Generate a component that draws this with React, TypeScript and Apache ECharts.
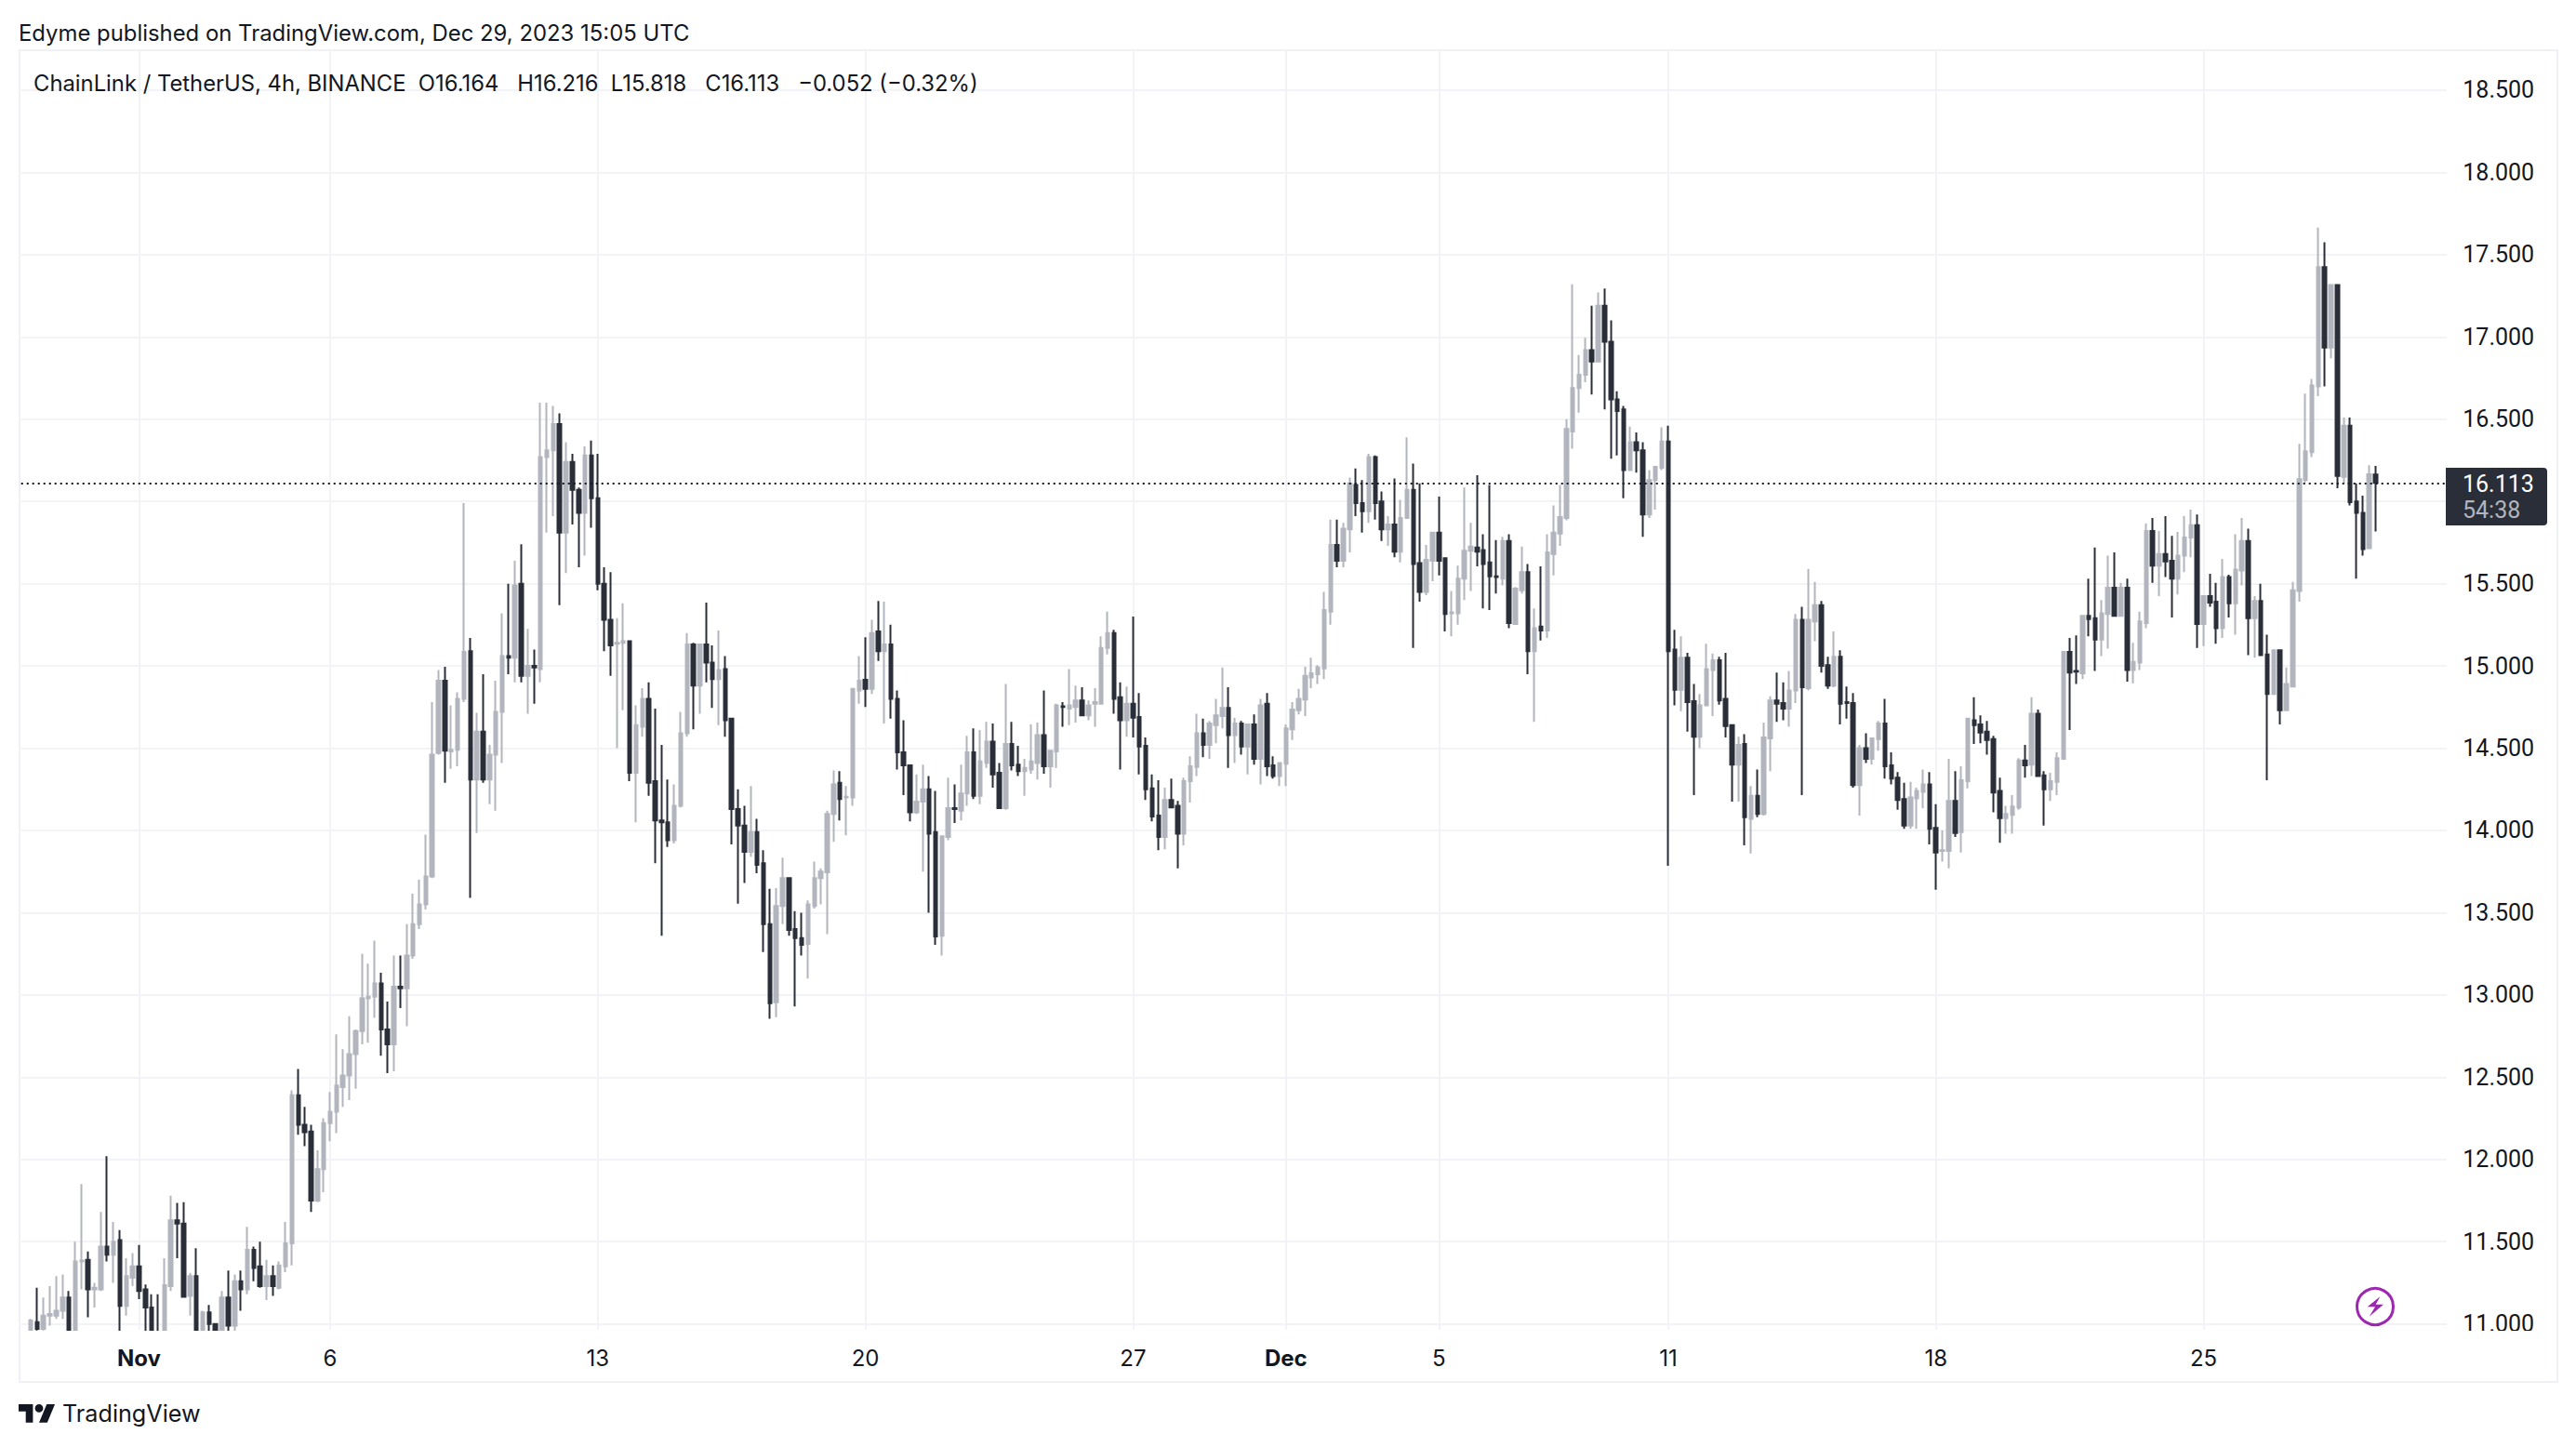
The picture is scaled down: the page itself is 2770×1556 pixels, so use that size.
import React, { useEffect, useRef } from "react";
import * as echarts from "echarts";

const opens = [
10.95,11.01,10.97,11.05,11.05,11.08,11.16,10.95,11.38,11.39,
11.21,11.21,11.47,11.42,11.51,11.11,11.28,11.35,11.21,11.10,
10.95,10.93,11.23,11.63,11.61,11.17,11.29,10.96,11.07,11.00,
10.95,11.16,10.99,11.26,11.21,11.45,11.35,11.23,11.29,11.22,
11.35,11.49,12.39,12.21,12.17,11.75,11.94,12.22,12.29,12.44,
12.51,12.64,12.78,12.98,12.99,13.07,12.79,12.70,13.05,13.04,
13.24,13.43,13.55,13.72,14.47,14.91,14.48,14.49,14.80,15.09,
14.31,14.60,14.31,14.46,14.72,15.06,15.05,15.50,14.94,15.00,
14.98,16.27,16.31,16.47,15.81,16.24,16.07,15.93,16.28,16.02,
15.50,15.28,15.135,15.14,15.15,14.35,14.63,14.80,14.30,14.06,
14.05,13.94,14.15,14.59,15.13,14.88,15.13,15.02,14.92,14.98,
14.68,14.13,14.03,13.87,13.99,13.80,13.43,12.955,13.54,13.71,
13.40,13.345,13.31,13.54,13.71,13.745,14.10,14.29,14.20,14.20,
14.85,14.915,14.86,15.21,15.09,15.13,14.80,14.475,14.395,14.11,
14.175,14.25,13.99,13.36,13.96,14.135,14.12,14.225,14.475,14.21,
14.41,14.54,14.35,14.135,14.525,14.40,14.36,14.37,14.41,14.58,
14.39,14.48,14.755,14.74,14.75,14.79,14.70,14.77,14.77,15.11,
15.20,14.81,14.67,14.77,14.69,14.515,14.255,14.09,13.96,14.185,
14.15,13.98,14.30,14.385,14.59,14.52,14.64,14.695,14.745,14.58,
14.65,14.51,14.645,14.435,14.77,14.395,14.33,14.405,14.615,14.73,
14.795,14.93,14.95,14.985,15.33,15.735,15.64,15.83,16.10,15.99,
15.94,16.27,16.00,15.83,15.86,15.695,15.90,16.07,15.625,15.45,
15.64,15.81,15.655,15.32,15.32,15.53,15.70,15.72,15.705,15.63,
15.545,15.53,15.76,15.255,15.46,15.57,15.09,15.24,15.215,15.68,
15.805,15.90,16.425,16.69,16.77,16.92,16.85,17.19,16.97,16.62,
16.56,16.19,16.36,16.31,15.92,16.13,16.205,16.365,15.10,14.855,
15.05,14.785,14.57,14.76,14.975,15.035,14.80,14.64,14.40,14.525,
14.07,14.21,14.10,14.56,14.79,14.775,14.74,14.85,15.28,14.865,
15.27,15.37,15.005,14.88,15.055,14.78,14.775,14.275,14.50,14.435,
14.555,14.65,14.395,14.32,14.19,14.03,14.195,14.235,14.28,14.015,
13.875,13.875,14.18,13.99,14.30,14.67,14.645,14.60,14.555,14.24,
14.075,14.095,14.14,14.425,14.40,14.71,14.335,14.25,14.295,14.435,
15.085,14.97,14.955,15.305,15.29,15.16,15.315,15.475,15.305,15.475,
14.975,15.02,15.26,15.82,15.61,15.68,15.64,15.53,15.67,15.78,
15.855,15.255,15.425,15.39,15.23,15.54,15.38,15.58,15.76,15.29,
15.395,15.07,14.83,15.095,14.73,14.875,15.455,16.13,16.30,16.70,
17.425,16.935,17.315,16.15,16.46,16.00,15.93,15.715,16.164,
];

const highs = [
11.03,11.22,11.16,11.23,11.29,11.30,11.20,11.50,11.85,11.44,
11.25,11.68,12.02,11.62,11.57,11.40,11.43,11.48,11.24,11.18,
11.18,11.40,11.78,11.735,11.74,11.31,11.46,11.08,11.115,11.00,
11.20,11.325,11.30,11.325,11.59,11.47,11.50,11.39,11.355,11.38,
11.62,12.42,12.55,12.32,12.21,12.055,12.25,12.41,12.76,12.67,
12.87,12.79,13.25,13.19,13.33,13.135,12.96,13.24,13.24,13.43,
13.615,13.70,13.975,14.78,14.975,14.995,14.76,14.84,15.99,15.17,
14.715,14.95,14.52,14.91,15.32,15.50,15.64,15.74,15.225,15.10,
16.60,16.60,16.58,16.535,16.36,16.29,16.085,16.335,16.37,16.29,
15.60,15.57,15.29,15.38,15.15,14.76,14.865,14.90,14.74,14.52,
14.31,14.28,14.72,15.20,15.14,15.13,15.385,15.125,15.215,15.06,
14.68,14.25,14.15,14.27,14.07,13.88,13.645,13.65,13.835,13.71,
13.51,13.50,13.575,13.81,13.77,14.12,14.365,14.36,14.27,14.86,
15.06,15.175,15.28,15.395,15.39,15.25,14.85,14.67,14.40,14.34,
14.40,14.33,14.24,13.97,14.32,14.28,14.40,14.575,14.62,14.61,
14.66,14.65,14.41,14.89,14.66,14.515,14.435,14.645,14.655,14.85,
14.49,14.77,14.78,14.98,14.88,14.87,14.79,14.865,15.18,15.33,
15.22,14.90,14.875,15.30,14.835,14.565,14.34,14.305,14.26,14.315,
14.18,14.32,14.45,14.71,14.68,14.665,14.80,14.99,14.87,14.685,
14.665,14.65,14.705,14.80,14.835,14.45,14.41,14.645,14.78,14.86,
14.995,15.05,15.005,15.45,15.89,15.89,15.87,16.145,16.20,16.13,
16.29,16.28,16.06,15.91,16.14,16.01,16.39,16.23,16.11,15.735,
15.815,16.03,15.655,15.455,15.61,16.085,15.87,16.16,15.80,16.10,
15.765,15.785,15.80,15.48,15.725,15.62,15.35,15.605,15.80,15.975,
16.10,16.50,17.32,16.89,16.995,17.19,17.27,17.295,17.10,16.67,
16.58,16.455,16.42,16.36,16.19,16.21,16.45,16.46,15.22,15.18,
15.08,14.89,14.83,15.135,15.075,15.055,15.08,14.64,14.57,14.585,
14.27,14.37,14.655,14.815,14.96,14.90,14.97,15.315,15.36,15.59,
15.51,15.395,15.055,15.21,15.095,14.875,14.835,14.52,14.59,14.565,
14.665,14.80,14.475,14.355,14.29,14.295,14.26,14.37,14.355,14.16,
14.00,14.435,14.36,14.39,14.685,14.81,14.70,14.665,14.575,14.32,
14.15,14.215,14.44,14.52,14.81,14.735,14.36,14.35,14.475,15.085,
15.17,15.185,15.31,15.53,15.72,15.40,15.67,15.69,15.505,15.53,
15.14,15.33,15.865,15.90,15.82,15.91,15.79,15.815,15.91,15.95,
15.92,15.43,15.56,15.505,15.65,15.555,15.80,15.90,15.835,15.425,
15.50,15.19,15.10,15.10,14.99,15.51,16.35,16.655,16.745,17.665,
17.575,17.32,17.32,16.51,16.51,16.11,16.035,16.22,16.216,
];

const lows = [
10.90,10.96,10.96,10.99,11.03,11.03,10.90,10.90,11.21,11.04,
11.10,11.20,11.38,11.25,10.90,11.05,11.23,11.15,10.90,10.90,
10.89,10.90,11.20,11.40,11.16,11.05,10.90,10.93,10.95,10.92,
10.92,10.93,10.95,11.08,11.18,11.26,11.22,11.145,11.17,11.21,
11.315,11.355,12.15,12.08,11.68,11.74,11.80,12.11,12.16,12.32,
12.36,12.43,12.70,12.71,12.86,12.63,12.525,12.535,12.92,12.81,
13.22,13.40,13.52,13.71,14.46,14.29,14.375,14.39,14.78,13.59,
13.985,14.29,14.16,14.12,14.41,14.95,14.90,14.90,14.71,14.77,
14.90,15.81,15.91,15.37,15.565,15.86,15.60,15.67,15.84,15.46,
15.09,14.94,14.50,14.73,14.30,14.05,14.57,14.21,13.80,13.36,
13.90,13.92,14.14,14.57,14.615,14.71,14.90,14.745,14.64,14.57,
13.915,13.555,13.68,13.84,13.74,13.26,12.855,12.865,13.43,13.36,
12.93,13.24,13.10,13.525,13.55,13.37,13.93,14.06,13.97,14.15,
14.77,14.75,14.83,15.03,14.65,14.68,14.37,14.215,14.055,14.10,
13.75,13.50,13.305,13.24,13.94,14.045,14.06,14.15,14.19,14.16,
14.38,14.26,14.13,14.125,14.365,14.33,14.21,14.345,14.31,14.345,
14.26,14.38,14.63,14.64,14.655,14.70,14.67,14.63,14.765,15.07,
14.71,14.37,14.57,14.565,14.34,14.185,14.055,13.88,13.885,14.135,
13.77,13.91,14.17,14.33,14.445,14.435,14.53,14.62,14.38,14.41,
14.46,14.34,14.40,14.28,14.33,14.315,14.27,14.27,14.55,14.705,
14.695,14.865,14.89,14.92,15.25,15.60,15.60,15.69,15.91,15.81,
15.87,15.89,15.76,15.73,15.66,15.63,15.895,15.11,15.39,15.43,
15.515,15.55,15.21,15.18,15.25,15.40,15.455,15.605,15.35,15.34,
15.44,15.49,15.23,15.25,15.44,14.95,14.66,15.155,15.17,15.55,
15.73,15.885,16.32,16.54,16.725,16.65,16.85,16.56,16.26,16.28,
16.02,16.185,16.175,15.785,15.90,15.95,16.19,13.785,14.76,14.725,
14.60,14.215,14.50,14.76,14.695,14.765,14.565,14.175,14.175,13.91,
13.86,14.08,14.09,14.36,14.66,14.67,14.63,14.775,14.215,14.85,
15.15,14.96,14.86,14.87,14.645,14.68,14.26,14.09,14.41,14.40,
14.485,14.315,14.28,14.125,14.01,14.01,14.01,14.135,13.915,13.64,
13.81,13.77,13.96,13.865,14.255,14.525,14.53,14.46,14.11,13.925,
13.98,13.98,14.125,14.32,14.33,14.33,14.03,14.18,14.215,14.435,
14.61,14.89,14.92,15.18,14.97,15.06,15.105,15.30,15.305,14.905,
14.895,14.975,15.23,15.505,15.425,15.54,15.295,15.435,15.57,15.66,
15.11,15.12,15.36,15.135,15.17,15.295,15.19,15.49,15.065,15.05,
15.06,14.305,14.83,14.645,14.725,14.87,15.39,16.115,16.27,16.64,
16.70,16.87,16.08,16.11,15.975,15.53,15.67,15.715,15.818,
];

const closes = [
11.02,10.97,11.05,11.06,11.08,11.16,10.96,11.38,11.385,11.21,
11.22,11.47,11.42,11.50,11.11,11.29,11.35,11.20,11.10,10.95,
10.90,11.235,11.63,11.61,11.165,11.29,10.95,11.07,11.00,10.95,
11.16,10.99,11.26,11.21,11.45,11.34,11.23,11.29,11.23,11.355,
11.49,12.39,12.21,12.165,11.75,11.94,12.22,12.29,12.45,12.51,
12.64,12.78,12.98,12.99,13.07,12.79,12.70,13.05,13.04,13.24,
13.43,13.55,13.72,14.46,14.91,14.485,14.49,14.80,15.085,14.31,
14.60,14.31,14.46,14.72,15.06,15.05,15.49,14.94,15.00,14.99,
16.27,16.31,16.47,15.81,16.24,16.07,15.93,16.28,16.02,15.50,
15.28,15.125,15.14,15.15,14.35,14.64,14.80,14.29,14.06,14.05,
13.94,14.15,14.59,15.13,14.88,15.13,15.02,14.92,14.975,14.67,
14.13,14.03,13.87,13.99,13.79,13.43,12.95,13.54,13.71,13.395,
13.345,13.305,13.55,13.71,13.75,14.10,14.28,14.19,14.205,14.86,
14.91,14.86,15.20,15.09,15.13,14.80,14.475,14.395,14.11,14.175,
14.25,13.98,13.355,13.965,14.135,14.13,14.225,14.475,14.21,14.42,
14.54,14.34,14.135,14.525,14.395,14.36,14.38,14.42,14.58,14.39,
14.485,14.76,14.75,14.76,14.79,14.70,14.76,14.78,15.11,15.20,
14.80,14.67,14.77,14.685,14.51,14.25,14.085,13.96,14.185,14.14,
13.98,14.30,14.39,14.59,14.52,14.65,14.70,14.745,14.58,14.65,
14.51,14.645,14.435,14.76,14.39,14.33,14.41,14.62,14.735,14.80,
14.94,14.955,14.99,15.34,15.735,15.64,15.835,16.11,15.99,15.94,
16.27,15.99,15.83,15.86,15.695,15.90,16.07,15.62,15.45,15.645,
15.81,15.64,15.315,15.325,15.53,15.70,15.725,15.695,15.62,15.545,
15.54,15.76,15.26,15.47,15.57,15.09,15.23,15.215,15.69,15.81,
15.905,16.44,16.69,16.77,16.92,16.85,17.19,16.97,16.62,16.55,
16.19,16.36,16.31,15.92,16.13,16.21,16.365,15.09,14.855,15.05,
14.78,14.57,14.76,14.98,15.035,14.79,14.635,14.40,14.52,14.08,
14.21,14.10,14.565,14.79,14.77,14.74,14.85,15.28,14.87,15.28,
15.37,15.00,14.88,15.055,14.77,14.775,14.275,14.50,14.435,14.56,
14.65,14.39,14.315,14.185,14.03,14.20,14.24,14.28,14.01,13.865,
13.88,14.18,13.985,14.305,14.68,14.64,14.595,14.55,14.23,14.075,
14.10,14.145,14.425,14.395,14.71,14.33,14.25,14.30,14.44,15.085,
14.96,14.965,15.305,15.285,15.16,15.32,15.475,15.305,15.475,14.975,
15.025,15.27,15.82,15.61,15.68,15.635,15.53,15.67,15.78,15.855,
15.255,15.425,15.385,15.23,15.54,15.38,15.585,15.76,15.29,15.395,
15.065,14.83,15.095,14.73,14.89,15.46,16.135,16.305,16.705,17.425,
16.935,17.315,16.155,16.46,15.995,15.93,15.71,16.165,16.113,
];

const priceTicks = [11,11.5,12,12.5,13,13.5,14,14.5,15,15.5,16,16.5,17,17.5,18,18.5];
const priceLabels = [11,11.5,12,12.5,13,13.5,14,14.5,15,15.5,16.5,17,17.5,18,18.5];
const dateTickLabels = ["Nov","6","13","20","27","Dec","5","11","18","25"];
const dateTickDays = [0,5,12,19,26,30,34,40,47,54];
const lastPrice = 16.113;

const FONT = "Inter, 'Noto Sans', sans-serif";
const PRICE_FONT = "Roboto, 'Noto Sans', sans-serif";
const INK = "#131722";
const GRID = "#F2F3F6";
const FRAME = "#F0F1F6";
const DARK = "#2A2E39";
const LIGHT = "#B2B5BE";
const PURPLE = "#9C27B0";

const PAD_BEFORE = 1;
const PAD_AFTER = 11;
const FIRST_DAY_CANDLE = 17;
const CANDLES_PER_DAY = 6;

const tickByIndex: Record<number, string> = {};
dateTickDays.forEach((d, k) => {
  tickByIndex[PAD_BEFORE + FIRST_DAY_CANDLE + d * CANDLES_PER_DAY] = dateTickLabels[k];
});
const total = PAD_BEFORE + opens.length + PAD_AFTER;
const categories = Array.from({ length: total }, (_, i) => `c${i}`);
const isDateTick = (i: number) => tickByIndex[i] !== undefined;

const candleData: any[] = [
  ...Array.from({ length: PAD_BEFORE }, () => ["-", "-", "-", "-"]),
  ...opens.map((o, i) => [o, closes[i], lows[i], highs[i]]),
];

echarts.graphic.registerShape(
  "tvLogo",
  echarts.graphic.extendPath(
    "M14 22H7V11H0V4h14v18zM28 22h-8l7.5-18h8L28 22zM16 8a4 4 0 1 0 8 0a4 4 0 1 0-8 0z",
    {}
  )
);

const textEl = (text: string, x: number, y: number, fontSize: number, fill: string, extra: any = {}) => ({
  type: "text",
  x,
  y,
  z: 60,
  silent: true,
  style: { text, fontSize, fill, fontFamily: FONT, verticalAlign: "middle", align: "left", ...extra },
});

export default function App() {
  const ref = useRef<HTMLDivElement>(null);
  useEffect(() => {
    const chart = echarts.init(ref.current!, undefined, { renderer: "svg" });
    chart.setOption({
      animation: false,
      backgroundColor: "#ffffff",
      grid: { left: 22.72, top: 54, width: 2610.6, height: 1376, containLabel: false, show: false },
      xAxis: {
        type: "category",
        data: categories,
        boundaryGap: true,
        axisLine: { show: false },
        axisTick: { show: false, alignWithLabel: true, interval: (i: number) => isDateTick(i) },
        splitLine: {
          show: true,
          alignWithLabel: true,
          interval: (i: number) => isDateTick(i),
          lineStyle: { color: GRID, width: 2 },
        },
        axisLabel: {
          interval: (i: number) => isDateTick(i),
          margin: 18,
          fontFamily: FONT,
          fontSize: 24,
          color: INK,
          hideOverlap: false,
          formatter: (_: string, i: number) => {
            const t = tickByIndex[i];
            if (t === undefined) return "";
            return t === "Nov" || t === "Dec" ? `{b|${t}}` : t;
          },
          rich: { b: { fontFamily: FONT, fontSize: 24, fontWeight: 700, color: INK } },
        },
      },
      yAxis: {
        type: "value",
        position: "right",
        min: 10.964,
        max: 18.743,
        axisLine: { show: false },
        axisTick: { show: false, customValues: priceTicks },
        splitLine: { show: true, lineStyle: { color: GRID, width: 2 } },
        axisLabel: {
          customValues: priceLabels,
          margin: 15,
          fontFamily: PRICE_FONT,
          fontSize: 25,
          color: INK,
          padding: [6, 0, 0, 0],
          formatter: (v: number) => v.toFixed(3),
        },
      },
      series: [
        {
          type: "candlestick",
          data: candleData,
          barWidth: 4,
          clip: true,
          itemStyle: {
            color: LIGHT,
            color0: DARK,
            borderColor: LIGHT,
            borderColor0: DARK,
            borderWidth: 2,
          },
          markLine: {
            silent: true,
            symbol: "none",
            animation: false,
            label: { show: false },
            lineStyle: { color: INK, type: [2, 4], width: 2 },
            data: [{ yAxis: lastPrice }],
          },
        },
      ],
      graphic: [
        { type: "rect", z: 55, silent: true, shape: { x: 22, y: 1431, width: 2612, height: 15 }, style: { fill: "#ffffff" } },
        { type: "rect", z: 55, silent: true, shape: { x: 2631, y: 54, width: 6, height: 1380 }, style: { fill: "#ffffff" } },
        { type: "rect", z: 55, silent: true, shape: { x: 2636, y: 1431, width: 112, height: 53 }, style: { fill: "#ffffff" } },
        { type: "rect", z: 56, silent: true, shape: { x: 21, y: 54, width: 2729, height: 1432 }, style: { fill: "none", stroke: FRAME, lineWidth: 2 } },
        { type: "rect", z: 58, silent: true, shape: { x: 2630, y: 503, width: 109, height: 62, r: [0, 4, 4, 0] }, style: { fill: DARK } },
        textEl(lastPrice.toFixed(3), 2648, 520, 25, "#ffffff", { fontFamily: PRICE_FONT }),
        textEl("54:38", 2648, 548, 25, LIGHT, { fontFamily: PRICE_FONT }),
        textEl("Edyme published on TradingView.com, Dec 29, 2023 15:05 UTC", 20, 35, 23.88, INK),
        textEl("ChainLink / TetherUS, 4h, BINANCE  O16.164   H16.216  L15.818   C16.113   \u22120.052 (\u22120.32%)", 36, 89.5, 23.8, INK),
        { type: "tvLogo", z: 60, silent: true, x: 20, y: 1505.6, scaleX: 1.1, scaleY: 1.1, style: { fill: INK } },
        textEl("TradingView", 67, 1520, 25.2, INK),
        { type: "circle", z: 60, silent: true, shape: { cx: 2554, cy: 1405, r: 19.5 }, style: { fill: "#ffffff", stroke: PURPLE, lineWidth: 3 } },
        {
          type: "polygon",
          z: 61,
          silent: true,
          shape: { points: [[2559.3,1394.3],[2545.7,1405.3],[2554,1405.3],[2547.7,1415.7],[2563,1402.7],[2554.7,1402.7]] },
          style: { fill: PURPLE },
        },
      ],
    });
    return () => chart.dispose();
  }, []);
  return (
    <div
      ref={ref}
      style={{ position: "fixed", left: 0, top: 0, width: 2770, height: 1556, background: "#ffffff" }}
    />
  );
}
